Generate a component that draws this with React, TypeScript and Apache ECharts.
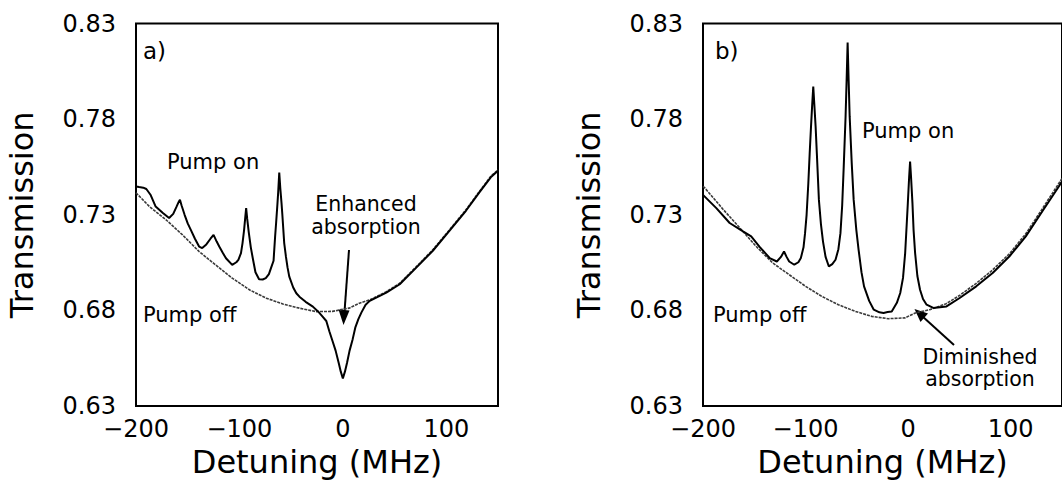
import React, { useEffect, useRef } from "react";
import * as echarts from "echarts";

// Tick labels
const xTicks = [-200, -100, 0, 100];
const yTicks = [0.63, 0.68, 0.73, 0.78, 0.83];

// Panel a) — pump off (detuning MHz, transmission)
const aPumpOff: [number, number][] = [
  [-200, 0.7415], [-187, 0.7343], [-171, 0.7274], [-155, 0.7195], [-139, 0.7108],
  [-123, 0.7038], [-107, 0.6969], [-90, 0.6907], [-74, 0.6864], [-58, 0.6834],
  [-42, 0.6812], [-26, 0.6794], [-10, 0.6795], [0, 0.6806], [6, 0.6812],
  [16, 0.6838], [26, 0.6855], [42, 0.6898], [55, 0.6942], [71, 0.7029],
  [87, 0.7117], [103, 0.7221], [119, 0.7326], [132, 0.7422], [143, 0.7501], [150, 0.7535],
];

// Panel a) — pump on
const aPumpOn: [number, number][] = [
  [-200, 0.7448], [-197, 0.7445], [-193, 0.7442], [-190, 0.7435], [-186, 0.7405],
  [-181, 0.7343], [-174, 0.7309], [-168, 0.7283], [-164, 0.7305], [-161, 0.734],
  [-158.5, 0.737], [-157.5, 0.7379], [-156, 0.735], [-153, 0.73], [-150, 0.7255],
  [-147, 0.7221], [-143, 0.7175], [-139, 0.7134], [-136, 0.7126], [-132, 0.7145],
  [-128, 0.7175], [-125, 0.7195], [-122, 0.716], [-119.5, 0.7134], [-116, 0.71],
  [-113, 0.7073], [-107, 0.7038], [-103, 0.7052], [-101, 0.7064], [-98.5, 0.71],
  [-97, 0.7152], [-95.5, 0.722], [-94.3, 0.729], [-93.5, 0.7335], [-92.5, 0.728],
  [-91, 0.721], [-89, 0.713], [-87, 0.707], [-84.5, 0.7], [-81, 0.6963],
  [-77.5, 0.6962], [-74.5, 0.6969], [-71.5, 0.699], [-69.5, 0.7021], [-67, 0.706],
  [-65.5, 0.7186], [-64.5, 0.726], [-63.2, 0.7361], [-62.5, 0.742], [-61.5, 0.7521],
  [-60.5, 0.744], [-59.3, 0.7361], [-58.5, 0.73], [-56.7, 0.7152], [-55, 0.708],
  [-53.5, 0.7025], [-51.8, 0.6977], [-48, 0.692], [-45, 0.689], [-42, 0.6872],
  [-36, 0.6845], [-29, 0.682], [-24, 0.6795], [-20, 0.677], [-16, 0.6745],
  [-13, 0.669], [-10, 0.664], [-7, 0.659], [-4, 0.6525], [-2, 0.648],
  [0, 0.6445], [2, 0.648], [4, 0.6525], [6.5, 0.659], [9.5, 0.665],
  [12, 0.671], [15, 0.6755], [18, 0.679], [22, 0.683], [26, 0.685],
  [42, 0.6893], [55, 0.6937], [71, 0.7024], [87, 0.7112], [103, 0.7216],
  [119, 0.7321], [132, 0.7417], [143, 0.7496], [150, 0.753],
];

// Panel b) — pump off
const bPumpOff: [number, number][] = [
  [-200, 0.7449], [-198, 0.7439], [-180, 0.7326], [-164, 0.7231], [-148, 0.7134],
  [-132, 0.7048], [-116, 0.6987], [-100, 0.6926], [-84, 0.6873], [-68, 0.683],
  [-51.5, 0.6795], [-35.5, 0.6769], [-19.3, 0.6757], [-3.2, 0.6761], [7, 0.6787],
  [21, 0.6804], [37, 0.6835], [50, 0.6878], [66, 0.694], [82, 0.701],
  [99, 0.7098], [115, 0.7203], [131, 0.7333], [147, 0.7465], [150, 0.749],
];

// Panel b) — pump on
const bPumpOn: [number, number][] = [
  [-200, 0.7404], [-187, 0.7335], [-174, 0.7257], [-161, 0.7213], [-153, 0.7187],
  [-145, 0.7134], [-135, 0.7074], [-128, 0.7056], [-124, 0.708], [-121, 0.7108],
  [-118.5, 0.708], [-116, 0.7056], [-111, 0.7039], [-107, 0.7052], [-104.6, 0.7074],
  [-102, 0.713], [-100.5, 0.7204], [-99, 0.73], [-97.3, 0.7466], [-96, 0.762],
  [-94.7, 0.7761], [-93.5, 0.788], [-92.5, 0.797], [-91.5, 0.788], [-90.2, 0.7761],
  [-89, 0.762], [-87, 0.7378], [-85, 0.725], [-83, 0.716], [-80.5, 0.708],
  [-77.3, 0.703], [-74, 0.7042], [-70.8, 0.7065], [-68, 0.712], [-66, 0.7204],
  [-64.3, 0.735], [-62.8, 0.7552], [-61, 0.7813], [-60, 0.8], [-59, 0.82],
  [-58, 0.8], [-57, 0.7813], [-55, 0.757], [-53.1, 0.7378], [-50.5, 0.722],
  [-48.3, 0.7117], [-45.5, 0.7], [-43, 0.6926], [-38, 0.685], [-33.5, 0.6804],
  [-28, 0.679], [-24, 0.6787], [-20, 0.6792], [-16, 0.6795], [-11, 0.684],
  [-7.7, 0.6891], [-5, 0.697], [-2.9, 0.71], [-1.2, 0.727], [-0.3, 0.7361],
  [1, 0.75], [1.9, 0.7578], [2.8, 0.75], [4.2, 0.7361], [5.3, 0.722],
  [6.8, 0.71], [9, 0.698], [11.6, 0.6908], [14.5, 0.686], [18, 0.683],
  [24.5, 0.6813], [37.4, 0.6821], [50.2, 0.6865], [66.4, 0.6926], [82.4, 0.6996],
  [98.6, 0.7082], [114.7, 0.7187], [130.7, 0.7317], [146.9, 0.7448], [150, 0.7475],
];

const FONT = "DejaVu Sans";

export default function App() {
  const ref = useRef<HTMLDivElement>(null);

  useEffect(() => {
    if (!ref.current) return;
    const chart = echarts.init(ref.current, null, { renderer: "svg" });

    const grids = [
      { left: 136, top: 23.5, width: 362, height: 383 },
      { left: 703, top: 23.5, width: 362, height: 383 },
    ];

    const xAxis = grids.map((_, i) => ({
      type: "value",
      gridIndex: i,
      min: -200,
      max: 150,
      axisLine: { show: false },
      axisTick: { show: false },
      splitLine: { show: false },
      axisLabel: {
        customValues: xTicks,
        formatter: (v: number) => String(v).replace("-", "\u2212"),
        color: "#000",
        fontFamily: FONT,
        fontSize: 24,
        margin: 11,
      },
      name: "Detuning (MHz)",
      nameLocation: "middle",
      nameGap: 38,
      nameTextStyle: { color: "#000", fontFamily: FONT, fontSize: 32 },
    }));

    const yAxis = grids.map((_, i) => ({
      type: "value",
      gridIndex: i,
      min: 0.63,
      max: 0.83,
      axisLine: { show: false },
      axisTick: { show: false },
      splitLine: { show: false },
      axisLabel: {
        customValues: yTicks,
        formatter: (v: number) => v.toFixed(2),
        color: "#000",
        fontFamily: FONT,
        fontSize: 24,
        margin: 20,
      },
      name: "Transmission",
      nameLocation: "middle",
      nameGap: 98,
      nameRotate: 90,
      nameTextStyle: { color: "#000", fontFamily: FONT, fontSize: 32 },
    }));

    const offStyle = { color: "#3a3a3a", width: 1.6, type: [3, 1] as number[] };
    const onStyle = { color: "#000", width: 2 };

    const mkSeries = (name: string, data: [number, number][], idx: number, style: any, z: number) => ({
      name,
      type: "line",
      xAxisIndex: idx,
      yAxisIndex: idx,
      data,
      showSymbol: false,
      symbol: "none",
      lineStyle: style,
      z,
      silent: true,
    });

    const txt = (text: string, x: number, y: number, size: number, align = "left") => ({
      type: "text",
      x,
      y,
      silent: true,
      style: {
        text,
        fill: "#000",
        font: `${size}px "${FONT}"`,
        textAlign: align,
        textVerticalAlign: "middle",
      },
    });

    chart.setOption({
      animation: false,
      backgroundColor: "#fff",
      grid: grids.map((g) => ({
        ...g,
        show: true,
        borderColor: "#000",
        borderWidth: 2,
        backgroundColor: "transparent",
      })),
      xAxis,
      yAxis,
      series: [
        mkSeries("Pump off a", aPumpOff, 0, offStyle, 2),
        mkSeries("Pump on a", aPumpOn, 0, onStyle, 3),
        mkSeries("Pump off b", bPumpOff, 1, offStyle, 2),
        mkSeries("Pump on b", bPumpOn, 1, onStyle, 3),
      ],
      graphic: [
        txt("a)", 143, 51, 23),
        txt("Pump on", 167, 162, 21),
        txt("Pump off", 143, 315, 21),
        txt("Enhanced", 366, 204, 20.5, "center"),
        txt("absorption", 366, 227, 20.5, "center"),
        {
          type: "line",
          silent: true,
          shape: { x1: 349, y1: 250, x2: 344.5, y2: 312 },
          style: { stroke: "#000", lineWidth: 2 },
        },
        {
          type: "polygon",
          silent: true,
          shape: { points: [[343.5, 325], [349.5, 310.4], [338.5, 309.6]] },
          style: { fill: "#000" },
        },
        txt("b)", 715, 51, 23),
        txt("Pump on", 862, 131, 21),
        txt("Pump off", 713, 315, 21),
        txt("Diminished", 980, 357, 20.5, "center"),
        txt("absorption", 980, 379, 20.5, "center"),
        {
          type: "line",
          silent: true,
          shape: { x1: 954, y1: 345, x2: 922, y2: 316 },
          style: { stroke: "#000", lineWidth: 2 },
        },
        {
          type: "polygon",
          silent: true,
          shape: { points: [[914.5, 309], [928, 313.5], [920.5, 322]] },
          style: { fill: "#000" },
        },
      ],
    });

    return () => chart.dispose();
  }, []);

  return (
    <div
      ref={ref}
      style={{ position: "absolute", left: 0, top: 0, width: 1062, height: 483 }}
    />
  );
}
